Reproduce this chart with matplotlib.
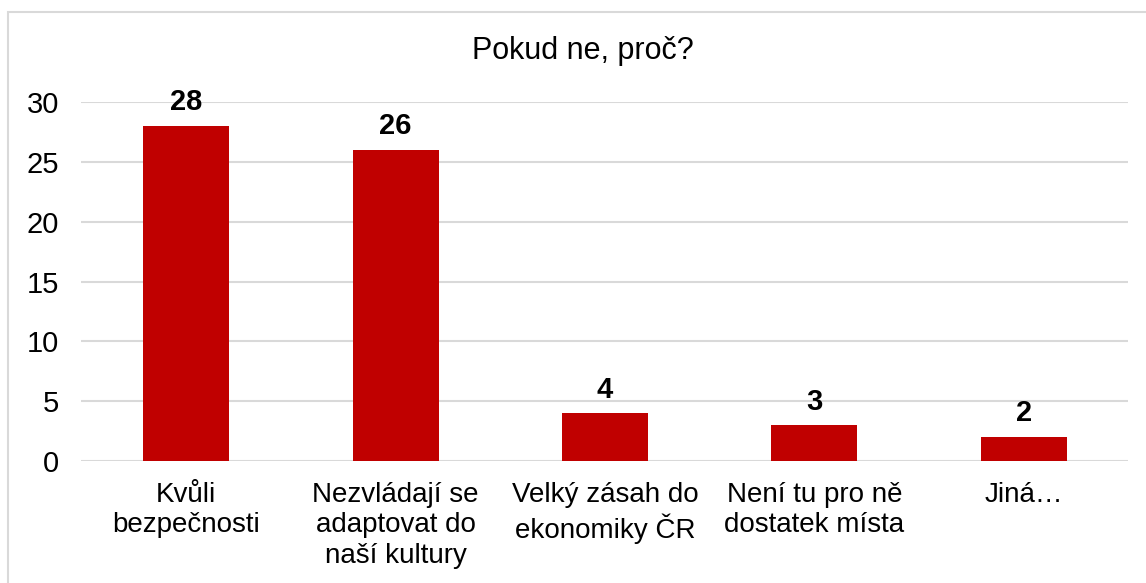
import matplotlib
matplotlib.use('Agg')
import matplotlib.pyplot as plt
from matplotlib.patches import Rectangle

plt.rcParams['font.family'] = ['Liberation Sans', 'DejaVu Sans']

categories = ['Kvůli\nbezpečnosti', 'Nezvládají se\nadaptovat do\nnaší kultury',
              'Velký zásah do\nekonomiky ČR', 'Není tu pro ně\ndostatek místa', 'Jiná…']
values = [28, 26, 4, 3, 2]
yticks = [0, 5, 10, 15, 20, 25, 30]

fig = plt.figure(figsize=(11.46, 5.83), dpi=100)
# light chart border
fig.patches.append(Rectangle((0.007, -0.01), 1.2, 0.989, transform=fig.transFigure,
                             fill=False, edgecolor='#d9d9d9', linewidth=1.5))

ax = fig.add_axes([0.0711, 0.2093, 0.9136, 0.6157])
x = range(len(values))
bars = ax.bar(x, values, width=0.41, color='#c00000', zorder=3)
for xi, v in zip(x, values):
    ax.text(xi, v + 0.8, str(v), ha='center', va='bottom', fontsize=21,
            fontweight='bold', clip_on=False)

ax.set_xlim(-0.5, len(values) - 0.5)
ax.set_ylim(0, 30)
ax.set_yticks(yticks)
ax.set_xticks(list(x))
ax.set_xticklabels(categories, fontsize=20, linespacing=1.22)
ax.tick_params(axis='y', labelsize=21, length=0, pad=16)
ax.tick_params(axis='x', length=0, pad=15)
ax.yaxis.grid(True, color='#d9d9d9', linewidth=1.5, zorder=0)
for s in ax.spines.values():
    s.set_visible(False)

fig.text(0.509, 0.912, 'Pokud ne, proč?', ha='center', va='center', fontsize=22)

fig.savefig('out.png', dpi=100)
